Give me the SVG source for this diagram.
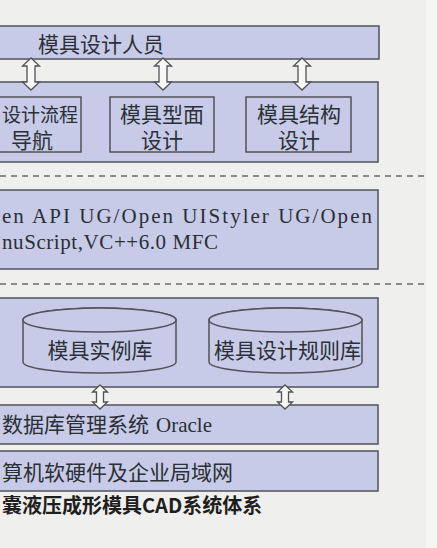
<svg xmlns="http://www.w3.org/2000/svg" width="437" height="548" viewBox="0 0 437 548">
<style>
.box{fill:#c7cbe7;stroke:#4f5459;stroke-width:1.5}
.t{font-family:"Liberation Serif","Noto Sans CJK SC",serif;font-size:21px;fill:#2b2f36}
.m{text-anchor:middle}
.dash{stroke:#6a6d70;stroke-width:1.3;stroke-dasharray:6 5;fill:none}
.arr{fill:#f7f7f5;stroke:#4f5459;stroke-width:1.3}
.cap{font-family:"Noto Sans CJK SC","Liberation Sans",sans-serif;font-size:20px;font-weight:bold;fill:#1e1e1e}
</style>
<defs>
<path id="arrA" d="M0,0 L8.5,8 L4,8 L4,24 L8.5,24 L0,32 L-8.5,24 L-4,24 L-4,8 L-8.5,8 Z"/>
<path id="arrB" d="M0,0 L7.5,7 L3.5,7 L3.5,17 L7.5,17 L0,24 L-7.5,17 L-3.5,17 L-3.5,7 L-7.5,7 Z"/>
</defs>
<rect x="0" y="0" width="437" height="548" fill="#efefed"/>
<rect x="426" y="0" width="11" height="548" fill="#f5f5f4"/>

<g id="designer">
<rect class="box" x="-10" y="26" width="389" height="33"/>
<text class="t" x="38" y="52">模具设计人员</text>
</g>

<g id="design-layer">
<rect class="box" x="-10" y="82" width="388" height="80"/>
</g>
<g id="flow-nav">
<rect class="box" x="-27" y="97" width="108" height="55"/>
<text class="t" x="2" y="122" style="font-size:19px">设计流程</text>
<text class="t m" x="32" y="148">导航</text>
</g>
<g id="surface-design">
<rect class="box" x="110" y="97" width="104" height="55"/>
<text class="t m" x="162" y="122">模具型面</text>
<text class="t m" x="162" y="148">设计</text>
</g>
<g id="structure-design">
<rect class="box" x="246" y="97" width="105" height="55"/>
<text class="t m" x="299" y="122">模具结构</text>
<text class="t m" x="299" y="148">设计</text>
</g>

<g id="tools">
<rect class="box" x="-10" y="190" width="388" height="79"/>
<text class="t" x="2" y="223" textLength="370" lengthAdjust="spacing">en API UG/Open UIStyler UG/Open</text>
<text class="t" x="2" y="249" textLength="216" lengthAdjust="spacing">nuScript,VC++6.0 MFC</text>
</g>

<g id="data-layer">
<rect class="box" x="-10" y="298" width="388" height="89"/>
</g>
<g id="instance-db">
<path class="box" d="M23,320 V362 A76.5,11 0 0 0 176,362 V320 A76.5,12 0 0 0 23,320 Z"/>
<ellipse class="box" cx="99.5" cy="320" rx="76.5" ry="12"/>
<text class="t m" x="100" y="358">模具实例库</text>
</g>
<g id="rule-db">
<path class="box" d="M209,320 V362 A76.5,11 0 0 0 362,362 V320 A76.5,12 0 0 0 209,320 Z"/>
<ellipse class="box" cx="285.5" cy="320" rx="76.5" ry="12"/>
<text class="t m" x="287.5" y="358">模具设计规则库</text>
</g>

<g id="dbms">
<rect class="box" x="-10" y="405" width="388" height="39"/>
<text class="t" x="2" y="432">数据库管理系统<tspan x="156">Oracle</tspan></text>
</g>

<g id="hardware">
<rect class="box" x="-10" y="451" width="388" height="40"/>
<text class="t" x="2" y="480">算机软硬件及企业局域网</text>
</g>

<g id="separators">
<line class="dash" x1="0" y1="176" x2="424" y2="176"/>
<line class="dash" x1="0" y1="284" x2="424" y2="284"/>
</g>

<g id="connectors">
<use href="#arrA" class="arr" transform="translate(31,58)"/>
<use href="#arrA" class="arr" transform="translate(163,58)"/>
<use href="#arrA" class="arr" transform="translate(302,58)"/>
<use href="#arrB" class="arr" transform="translate(100,385)"/>
<use href="#arrB" class="arr" transform="translate(285,385)"/>
</g>

<text class="cap" x="2" y="513">囊液压成形模具CAD系统体系</text>
</svg>
